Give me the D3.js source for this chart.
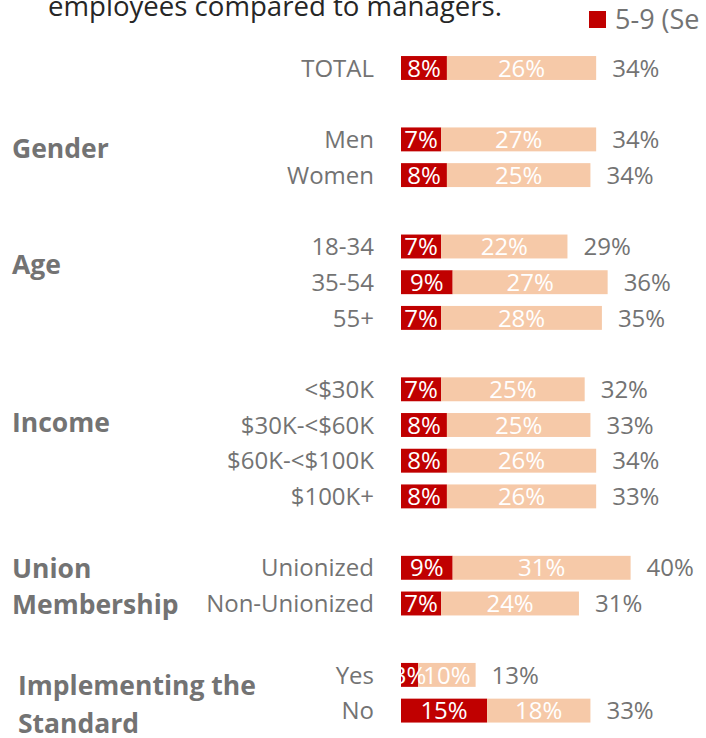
<!DOCTYPE html>
<html>
<head>
<meta charset="utf-8">
<script src="https://cdn.jsdelivr.net/npm/d3@7"></script>
<style>
  html, body { margin: 0; padding: 0; background: #fff; }
  svg { display: block; font-family: "Open Sans", sans-serif; }
</style>
</head>
<body>
<svg id="chart" width="706" height="738"></svg>
<script>
// Row labels, in display order; null marks the blank spacer rows between groups
const rows = ["TOTAL", null, "Men", "Women", null, "18-34", "35-54", "55+", null,
  "<$30K", "$30K-<$60K", "$60K-<$100K", "$100K+", null,
  "Unionized", "Non-Unionized", null, "Yes", "No"];

// Share of respondents (%) by row, same order as the non-empty rows
const categories = ["TOTAL", "Men", "Women", "18-34", "35-54", "55+", "<$30K",
  "$30K-<$60K", "$60K-<$100K", "$100K+", "Unionized", "Non-Unionized", "Yes", "No"];
const series59 = [8, 7, 8, 7, 9, 7, 7, 8, 8, 8, 9, 7, 3, 15];
const series10 = [26, 27, 25, 22, 27, 28, 25, 25, 26, 26, 31, 24, 10, 18];
const totals = [34, 34, 34, 29, 36, 35, 32, 33, 34, 33, 40, 31, 13, 33];

// Group headings (lines) and the row slot their block is centred on
const groupLines = [["Gender"], ["Age"], ["Income"], ["Union", "Membership"], ["Implementing the", "Standard"]];
const groupSlots = [2.24, 5.49, 9.92, 14.51, 17.84];

const legendLabels = ["5-9 (Se"];
const titleText = "employees compared to managers.";

const colors = { s59: "#c00000", s10: "#f6c9a8", text: "#737373", title: "#262626" };

const svg = d3.select("#chart");

const slotKeys = rows.map((r, i) => "s" + i);
const y = d3.scaleBand()
  .domain(slotKeys)
  .range([50.15, 50.15 + 35.7 * rows.length])
  .paddingInner(0.33)
  .paddingOuter(0.165);
const slotCenter = s => y.range()[0] + y.step() * (s + 0.5);

const x = d3.scaleLinear().domain([0, 50]).range([401, 688]);

const data = categories.map((c, i) => ({
  name: c,
  key: slotKeys[rows.indexOf(c)],
  a: series59[i],
  b: series10[i],
  total: totals[i]
}));

// Title (runs off the top edge) and legend (runs off the right edge)
svg.append("text")
  .attr("x", 48).attr("y", 16)
  .attr("font-size", 27.6).attr("fill", colors.title)
  .text(titleText);

const legend = svg.append("g");
legend.append("rect").attr("x", 589).attr("y", 11).attr("width", 17).attr("height", 17).attr("fill", colors.s59);
legend.append("text").attr("x", 615).attr("y", 29)
  .attr("font-size", 27).attr("fill", colors.text).text(legendLabels[0]);

// Bars
const barG = svg.append("g");
barG.selectAll("rect.a").data(data).join("rect")
  .attr("class", "a")
  .attr("x", x(0)).attr("y", d => y(d.key))
  .attr("width", d => x(d.a) - x(0)).attr("height", y.bandwidth())
  .attr("fill", colors.s59);
barG.selectAll("rect.b").data(data).join("rect")
  .attr("class", "b")
  .attr("x", d => x(d.a)).attr("y", d => y(d.key))
  .attr("width", d => x(d.a + d.b) - x(d.a)).attr("height", y.bandwidth())
  .attr("fill", colors.s10);

// Segment value labels, clipped to the plot area
svg.append("clipPath").attr("id", "plotClip")
  .append("rect").attr("x", x(0)).attr("y", 0).attr("width", 706 - x(0)).attr("height", 738);
const segG = svg.append("g").attr("clip-path", "url(#plotClip)")
  .attr("font-size", 24).attr("fill", "#fff").attr("text-anchor", "middle");
segG.selectAll("text.a").data(data).join("text")
  .attr("class", "a")
  .attr("x", d => (x(0) + x(d.a)) / 2)
  .attr("y", d => y(d.key) + y.bandwidth() / 2).attr("dy", "0.36em")
  .text(d => d.a + "%");
segG.selectAll("text.b").data(data).join("text")
  .attr("class", "b")
  .attr("x", d => (x(d.a) + x(d.a + d.b)) / 2)
  .attr("y", d => y(d.key) + y.bandwidth() / 2).attr("dy", "0.36em")
  .text(d => d.b + "%");

// Totals after each bar
svg.append("g").attr("font-size", 24).attr("fill", colors.text)
  .selectAll("text").data(data).join("text")
  .attr("x", d => x(d.a + d.b) + 16)
  .attr("y", d => y(d.key) + y.bandwidth() / 2).attr("dy", "0.36em")
  .text(d => d.total + "%");

// Row labels
svg.append("g").attr("font-size", 24).attr("fill", colors.text).attr("text-anchor", "end")
  .selectAll("text").data(data).join("text")
  .attr("x", 374)
  .attr("y", d => y(d.key) + y.bandwidth() / 2).attr("dy", "0.36em")
  .text(d => d.name);

// Group headings
const gG = svg.append("g").attr("font-size", 26.5).attr("font-weight", "bold").attr("fill", colors.text);
groupLines.forEach((lines, gi) => {
  const lh = lines.length > 1 && gi === 4 ? 38 : 36;
  const c = slotCenter(groupSlots[gi]);
  lines.forEach((ln, li) => {
    gG.append("text")
      .attr("x", gi === 4 ? 18 : 12)
      .attr("y", c + (li - (lines.length - 1) / 2) * lh)
      .attr("dy", "0.36em")
      .text(ln);
  });
});
</script>
</body>
</html>
